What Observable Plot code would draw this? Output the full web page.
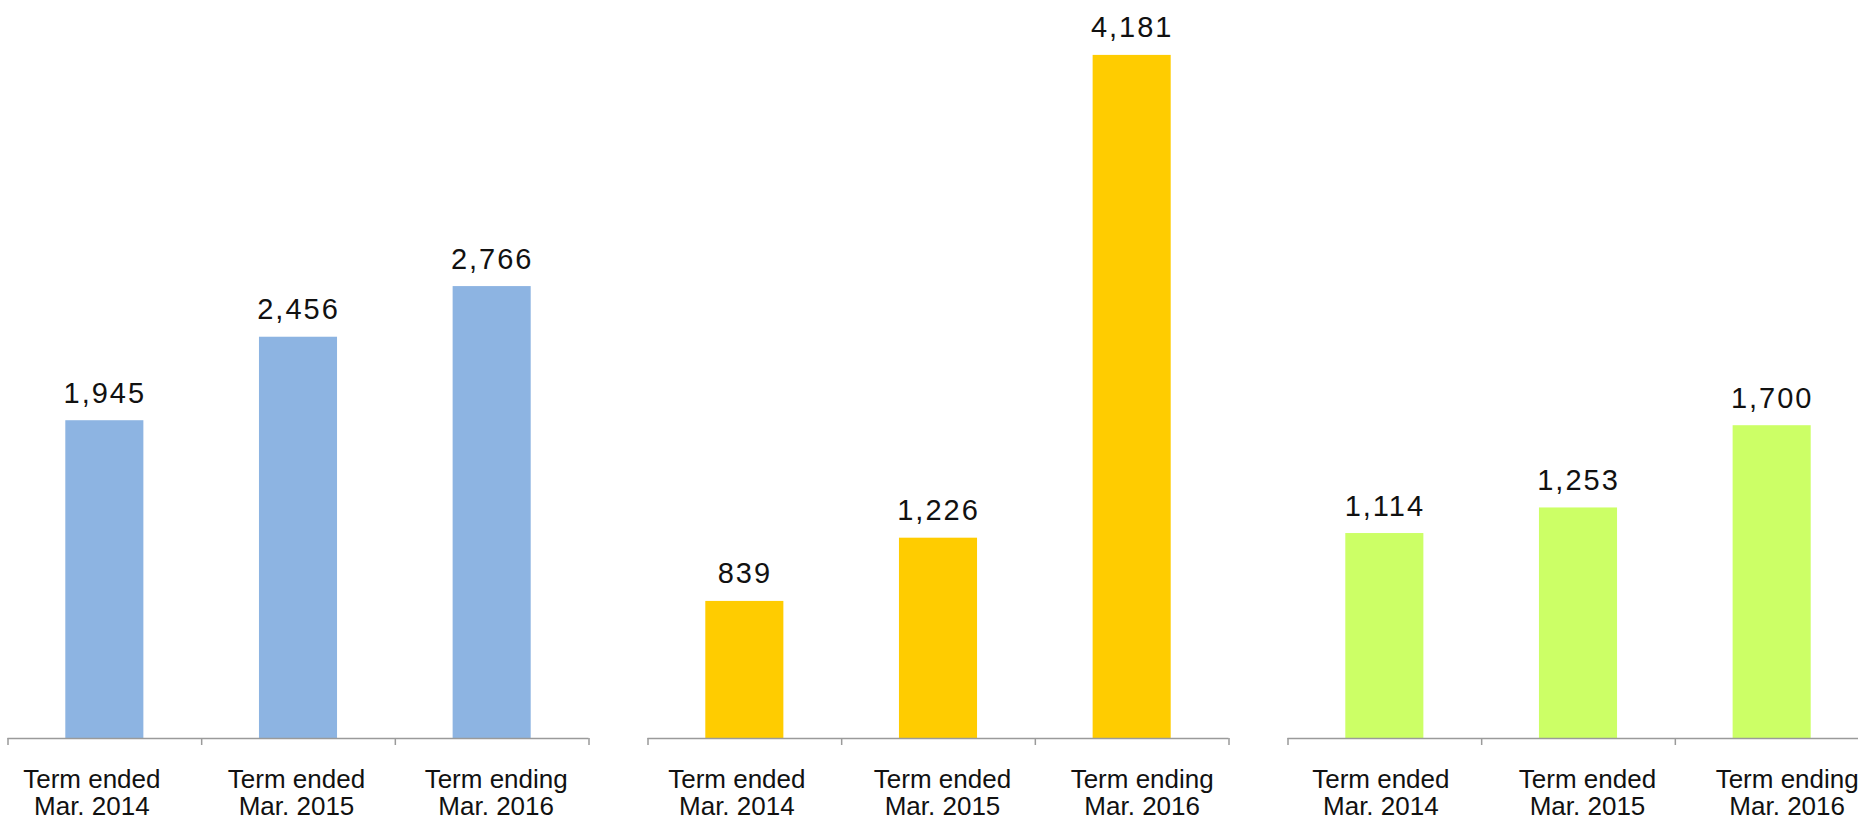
<!DOCTYPE html>
<html><head><meta charset="utf-8">
<script src="https://cdn.jsdelivr.net/npm/d3@7"></script>
<script src="https://cdn.jsdelivr.net/npm/@observablehq/plot@0.6"></script>
<style>
html,body{margin:0;padding:0;background:#fff;}
#wrap{position:relative;width:1858px;height:818px;overflow:hidden;background:#fff;}
.panel{position:absolute;top:0;width:640px;height:818px;}
.panel svg{max-width:none !important;}
</style></head><body><div id="wrap"></div>
<script>
const terms = ["Term ended\nMar. 2014", "Term ended\nMar. 2015", "Term ending\nMar. 2016"];
const seriesA = [1945, 2456, 2766];
const seriesB = [839, 1226, 4181];
const seriesC = [1114, 1253, 1700];
const seriesList = [seriesA, seriesB, seriesC];
const colors = ["#8DB4E2", "#FFCC00", "#CCFF66"];
const yMax = [4517, 4517, 4011];

const wrap = document.getElementById("wrap");
const fmt = d3.format(",");
const labelDx = [[-13, -2, 4], [-8, 4, 10], [-4, 9, 15]];
const panelLeft = [0, 640, 1280];

seriesList.forEach((vals, p) => {
  const data = vals.map((v, i) => ({i, v, term: terms[i]}));
  const termMarks = [0, 1, 2].map(k => Plot.text(data.filter(d => d.i === k), {
    x: d => d.i + 0.5, y: () => 0, text: "term",
    lineAnchor: "top", dy: 30, dx: labelDx[p][k], fontSize: 26, lineHeight: 1.04, fill: "#111"
  }));
  const svg = Plot.plot({
    width: 640, height: 818,
    marginLeft: 7.5, marginRight: 51.5, marginTop: 0, marginBottom: 80,
    style: {fontFamily: "'Liberation Sans', Arial, sans-serif", background: "transparent", maxWidth: "none"},
    x: {type: "linear", domain: [0, 3], axis: null},
    y: {domain: [0, yMax[p]], axis: null},
    marks: [
      Plot.rectY(data, {x1: d => d.i, x2: d => d.i + 1, y: "v", fill: colors[p], insetLeft: 57.8, insetRight: 57.8}),
      Plot.ruleY([0], {stroke: "#9a9a9a", strokeWidth: 1.5}),
      Plot.axisX({ticks: [0, 1, 2, 3], tickFormat: () => "", tickSize: 7, stroke: "#9a9a9a", strokeWidth: 1.5}),
      Plot.text(data, {x: d => d.i + 0.5, y: "v", text: d => fmt(d.v), lineAnchor: "bottom", dy: -18, fontSize: 29, fill: "#111"}),
      ...termMarks
    ]
  });
  const textGroups = svg.querySelectorAll('g[aria-label="text"]');
  if (textGroups.length) textGroups[0].setAttribute("letter-spacing", "2px");
  const div = document.createElement("div");
  div.className = "panel";
  div.style.left = panelLeft[p] + "px";
  div.appendChild(svg);
  wrap.appendChild(div);
});
</script>
</body></html>
